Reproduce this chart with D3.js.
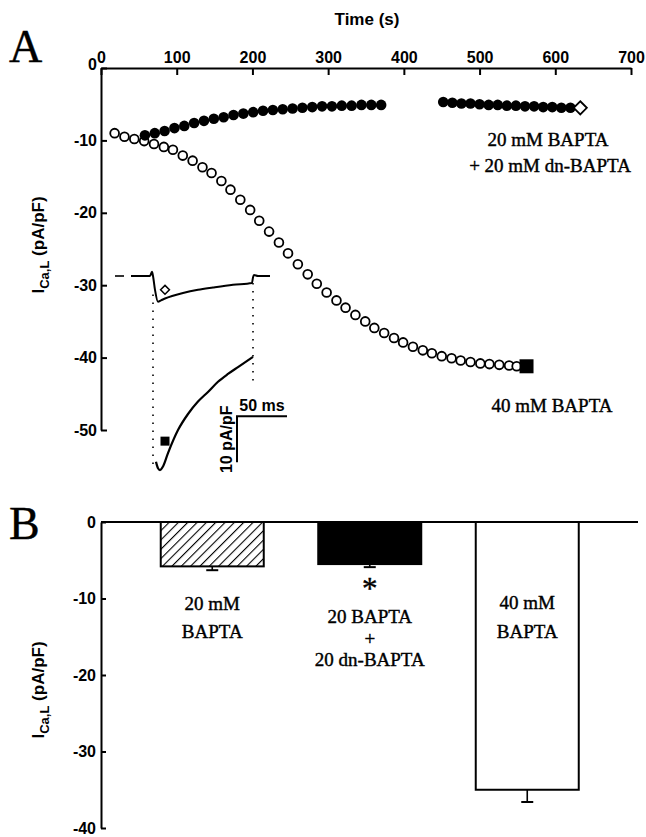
<!DOCTYPE html>
<html lang="en">
<head>
<meta charset="UTF-8">
<title>ICa,L BAPTA</title>
<script src="https://cdn.jsdelivr.net/npm/d3@7/dist/d3.min.js"></script>
<style>
  body { margin: 0; background: #fff; }
  .sans { font-family: Arial, "Liberation Sans", sans-serif; font-weight: bold; }
  .serif { font-family: "Times New Roman", "Liberation Serif", serif; stroke: #000; stroke-width: 0.4px; }
</style>
</head>
<body>
<svg width="646" height="837" id="mainsvg"></svg>
<script>
// ---- panel A: time course ----
const timeOpen = [18, 31, 44, 57, 70, 83, 95, 108, 121, 134, 146, 159, 171, 184, 197, 209, 222, 235, 247, 260,
  273, 285, 298, 311, 323, 336, 349, 361, 374, 387, 399, 412, 425, 437, 450, 463, 475, 488, 501, 513, 526, 539, 549];
const curOpen = [-9.0, -9.5, -9.8, -10.1, -10.5, -10.9, -11.3, -12.1, -12.8, -13.7, -14.5, -15.6, -16.8, -18.2, -19.6, -21.1, -22.6, -24.1, -25.6, -27.1,
  -28.5, -29.8, -31.0, -32.1, -33.1, -34.1, -35.0, -35.9, -36.6, -37.3, -37.9, -38.5, -39.0, -39.4, -39.8, -40.1, -40.4, -40.6, -40.8, -40.9, -41.0, -41.1, -41.2];
const timeFilled = [58, 71, 84, 97, 110, 123, 136, 149, 162, 175, 188, 201, 214, 227, 240, 253, 266, 279, 292, 305, 318, 331, 344, 357, 370,
  452, 464, 476, 488, 500, 512, 524, 536, 548, 560, 572, 584, 596, 608, 620];
const curFilled = [-9.3, -9.0, -8.7, -8.3, -8.0, -7.6, -7.3, -7.0, -6.8, -6.5, -6.3, -6.1, -5.9, -5.8, -5.7, -5.6, -5.5, -5.4, -5.3, -5.3, -5.2, -5.2, -5.1, -5.1, -5.1,
  -4.7, -4.8, -4.9, -4.9, -5.0, -5.1, -5.1, -5.2, -5.2, -5.3, -5.3, -5.4, -5.4, -5.5, -5.5];
const endDiamond = [633, -5.5];
const endSquare = [562, -41.2];
const xTicksA = [0, 100, 200, 300, 400, 500, 600, 700];
const yTicksA = [0, -10, -20, -30, -40, -50];

// inset current traces (ms, pA/pF)
const insetBaseT = [-38, -29];
const insetTimeDn = [-22, -10, -3, -1, 0, 2, 5, 8, 12, 20, 30, 45, 60, 80, 99, 100, 101, 105, 117];
const insetCurDn = [0, 0, 0, 0.9, 0, -3.0, -5.6, -5.3, -4.9, -4.3, -3.7, -3.0, -2.5, -1.9, -1.5, -0.3, 0.2, 0, 0];
const insetTimeB40 = [3, 5, 7, 10, 15, 25, 35, 45, 55, 65, 75, 85, 100];
const insetCurB40 = [-40.4, -41.8, -42.2, -41.4, -38.5, -33.5, -30.0, -27.3, -25.2, -23.0, -21.3, -19.8, -17.6];

// ---- panel B: bar summary ----
const barCats = ['20 mM BAPTA', '20 BAPTA + 20 dn-BAPTA', '40 mM BAPTA'];
const barMeans = [-5.8, -5.5, -35.0];
const barSem = [0.5, 0.4, 1.6];
const yTicksB = [0, -10, -20, -30, -40];

const svg = d3.select('#mainsvg');
svg.append('rect').attr('width', 646).attr('height', 837).attr('fill', '#fff');

const defs = svg.append('defs');
const pat = defs.append('pattern').attr('id', 'hatch')
  .attr('patternUnits', 'userSpaceOnUse').attr('width', 6.6).attr('height', 6.6)
  .attr('patternTransform', 'rotate(45)');
pat.append('rect').attr('width', 6.6).attr('height', 6.6).attr('fill', '#fff');
pat.append('line').attr('x1', 0).attr('y1', 0).attr('x2', 0).attr('y2', 6.6)
  .attr('stroke', '#000').attr('stroke-width', 2.2);

// ========== Panel A ==========
const xA = d3.scaleLinear().domain([0, 700]).range([101, 631]);
const yA = d3.scaleLinear().domain([0, -50]).range([68, 430]);

const axA = svg.append('g').attr('transform', `translate(0,${yA(0)})`)
  .call(d3.axisTop(xA).tickValues(xTicksA).tickSizeInner(-7).tickSizeOuter(0).tickPadding(5).tickFormat(d => d));
const ayA = svg.append('g').attr('transform', `translate(${xA(0)},0)`)
  .call(d3.axisLeft(yA).tickValues(yTicksA).tickSizeInner(-6).tickSizeOuter(0).tickPadding(4).tickFormat(d => String(d)));
[axA, ayA].forEach(a => {
  a.selectAll('path,line').attr('stroke', '#000').attr('stroke-width', 2);
  a.selectAll('text').attr('class', 'sans').attr('font-size', 16).attr('fill', '#000');
});
ayA.select('.tick text').attr('dy', '0.1em');

svg.append('text').attr('class', 'sans').attr('x', 367).attr('y', 25)
  .attr('text-anchor', 'middle').attr('font-size', 17).text('Time (s)');
svg.append('text').attr('class', 'serif').attr('x', 9).attr('y', 62)
  .attr('font-size', 46).text('A');

function yLabel(cx, cy) {
  const t = svg.append('text').attr('class', 'sans').attr('font-size', 17)
    .attr('text-anchor', 'middle')
    .attr('transform', `translate(${cx},${cy}) rotate(-90)`);
  t.append('tspan').text('I');
  t.append('tspan').attr('font-size', 13).attr('dy', 5).text('Ca,L');
  t.append('tspan').attr('dy', -5).text(' (pA/pF)');
}
yLabel(44, 245);

// open circles: 40 mM BAPTA
svg.append('g').selectAll('circle').data(timeOpen).join('circle')
  .attr('cx', d => xA(d)).attr('cy', (d, i) => yA(curOpen[i]))
  .attr('r', 4.4).attr('fill', '#fff').attr('stroke', '#000').attr('stroke-width', 1.8);
// filled circles: 20 BAPTA + 20 dn-BAPTA
svg.append('g').selectAll('circle').data(timeFilled).join('circle')
  .attr('cx', d => xA(d)).attr('cy', (d, i) => yA(curFilled[i]))
  .attr('r', 5.3).attr('fill', '#000');

const dSym = d3.symbol().type(d3.symbolDiamond2);
svg.append('path').attr('d', dSym.size(110)())
  .attr('transform', `translate(${xA(endDiamond[0])},${yA(endDiamond[1])})`)
  .attr('fill', '#fff').attr('stroke', '#000').attr('stroke-width', 1.8);
svg.append('rect').attr('x', xA(endSquare[0]) - 7).attr('y', yA(endSquare[1]) - 7)
  .attr('width', 14).attr('height', 14).attr('fill', '#000');

const serifLbl = (x, y, s, size) => svg.append('text').attr('class', 'serif')
  .attr('x', x).attr('y', y).attr('text-anchor', 'middle').attr('font-size', size || 19).text(s);
serifLbl(548, 146, '20 mM BAPTA');
serifLbl(550, 172, '+ 20 mM dn-BAPTA');
serifLbl(552, 412, '40 mM BAPTA');

// ---- inset ----
const xI = d3.scaleLinear().domain([0, 100]).range([153, 253]);
const yI = d3.scaleLinear().domain([0, -10]).range([276, 322]);
const lineI = d3.line().x(d => xI(d[0])).y(d => yI(d[1])).curve(d3.curveMonotoneX);
const inset = svg.append('g');
inset.append('path').attr('d', lineI(insetBaseT.map(t => [t, 0])))
  .attr('stroke', '#000').attr('stroke-width', 1.6).attr('fill', 'none');
inset.append('path').attr('d', lineI(insetTimeDn.map((t, i) => [t, insetCurDn[i]])))
  .attr('stroke', '#000').attr('stroke-width', 2).attr('fill', 'none');
inset.append('path').attr('d', lineI(insetTimeB40.map((t, i) => [t, insetCurB40[i]])))
  .attr('stroke', '#000').attr('stroke-width', 2.2).attr('fill', 'none');
// dotted fast transitions
[[0, -4, -42], [100, -1.5, -24]].forEach(([t, a, b]) => {
  inset.append('line').attr('x1', xI(t)).attr('x2', xI(t)).attr('y1', yI(a)).attr('y2', yI(b))
    .attr('stroke', '#000').attr('stroke-width', 1.6).attr('stroke-dasharray', '1.6,6.4');
});
inset.append('path').attr('d', dSym.size(50)())
  .attr('transform', `translate(${xI(12)},${yI(-3)})`)
  .attr('fill', '#fff').attr('stroke', '#000').attr('stroke-width', 1.5);
inset.append('rect').attr('x', xI(12) - 4.5).attr('y', yI(-35.9) - 4.5)
  .attr('width', 9).attr('height', 9).attr('fill', '#000');
// scale bar 50 ms / 10 pA/pF
const sb = [84, -30.5];
inset.append('path')
  .attr('d', `M${xI(sb[0] + 50)},${yI(sb[1])}H${xI(sb[0])}V${yI(sb[1] - 10)}`)
  .attr('stroke', '#000').attr('stroke-width', 2).attr('fill', 'none');
inset.append('text').attr('class', 'sans').attr('font-size', 16)
  .attr('x', xI(sb[0] + 25)).attr('y', yI(sb[1]) - 5).attr('text-anchor', 'middle').text('50 ms');
inset.append('text').attr('class', 'sans').attr('font-size', 16).attr('text-anchor', 'middle')
  .attr('transform', `translate(${xI(sb[0]) - 5},${yI(sb[1] - 5)}) rotate(-90)`).text('10 pA/pF');

// ========== Panel B ==========
const xB = d3.scaleBand().domain(barCats).range([133.5, 606]).paddingInner(0.346).paddingOuter(0.173);
const yB = d3.scaleLinear().domain([0, -40]).range([522, 828]);

const ayB = svg.append('g').attr('transform', 'translate(101,0)')
  .call(d3.axisLeft(yB).tickValues(yTicksB).tickSizeInner(-5).tickSizeOuter(0).tickPadding(5).tickFormat(d => String(d)));
ayB.selectAll('path,line').attr('stroke', '#000').attr('stroke-width', 2);
ayB.selectAll('text').attr('class', 'sans').attr('font-size', 16).attr('fill', '#000');

const barFill = ['url(#hatch)', '#000', '#fff'];
const bars = svg.append('g');
barCats.forEach((c, i) => {
  const cx = xB(c) + xB.bandwidth() / 2;
  bars.append('line').attr('x1', cx).attr('x2', cx)
    .attr('y1', yB(barMeans[i])).attr('y2', yB(barMeans[i] - barSem[i]))
    .attr('stroke', '#000').attr('stroke-width', 1.6);
  bars.append('line').attr('x1', cx - 6).attr('x2', cx + 6)
    .attr('y1', yB(barMeans[i] - barSem[i])).attr('y2', yB(barMeans[i] - barSem[i]))
    .attr('stroke', '#000').attr('stroke-width', 2);
  bars.append('rect').attr('x', xB(c)).attr('y', yB(0)).attr('width', xB.bandwidth())
    .attr('height', yB(barMeans[i]) - yB(0))
    .attr('fill', barFill[i]).attr('stroke', '#000').attr('stroke-width', 2);
});
svg.append('line').attr('x1', 101).attr('x2', 638).attr('y1', yB(0)).attr('y2', yB(0))
  .attr('stroke', '#000').attr('stroke-width', 2);

const cB = c => xB(c) + xB.bandwidth() / 2;
serifLbl(cB(barCats[0]), 610, '20 mM');
serifLbl(cB(barCats[0]), 638, 'BAPTA');
serifLbl(cB(barCats[1]), 599, '*', 31);
serifLbl(cB(barCats[1]), 623, '20 BAPTA');
serifLbl(cB(barCats[1]), 645, '+');
serifLbl(cB(barCats[1]), 666, '20 dn-BAPTA');
serifLbl(cB(barCats[2]), 609, '40 mM');
serifLbl(cB(barCats[2]), 638, 'BAPTA');

svg.append('text').attr('class', 'serif').attr('x', 9).attr('y', 539)
  .attr('font-size', 46).text('B');
yLabel(44, 690);
</script>
</body>
</html>
